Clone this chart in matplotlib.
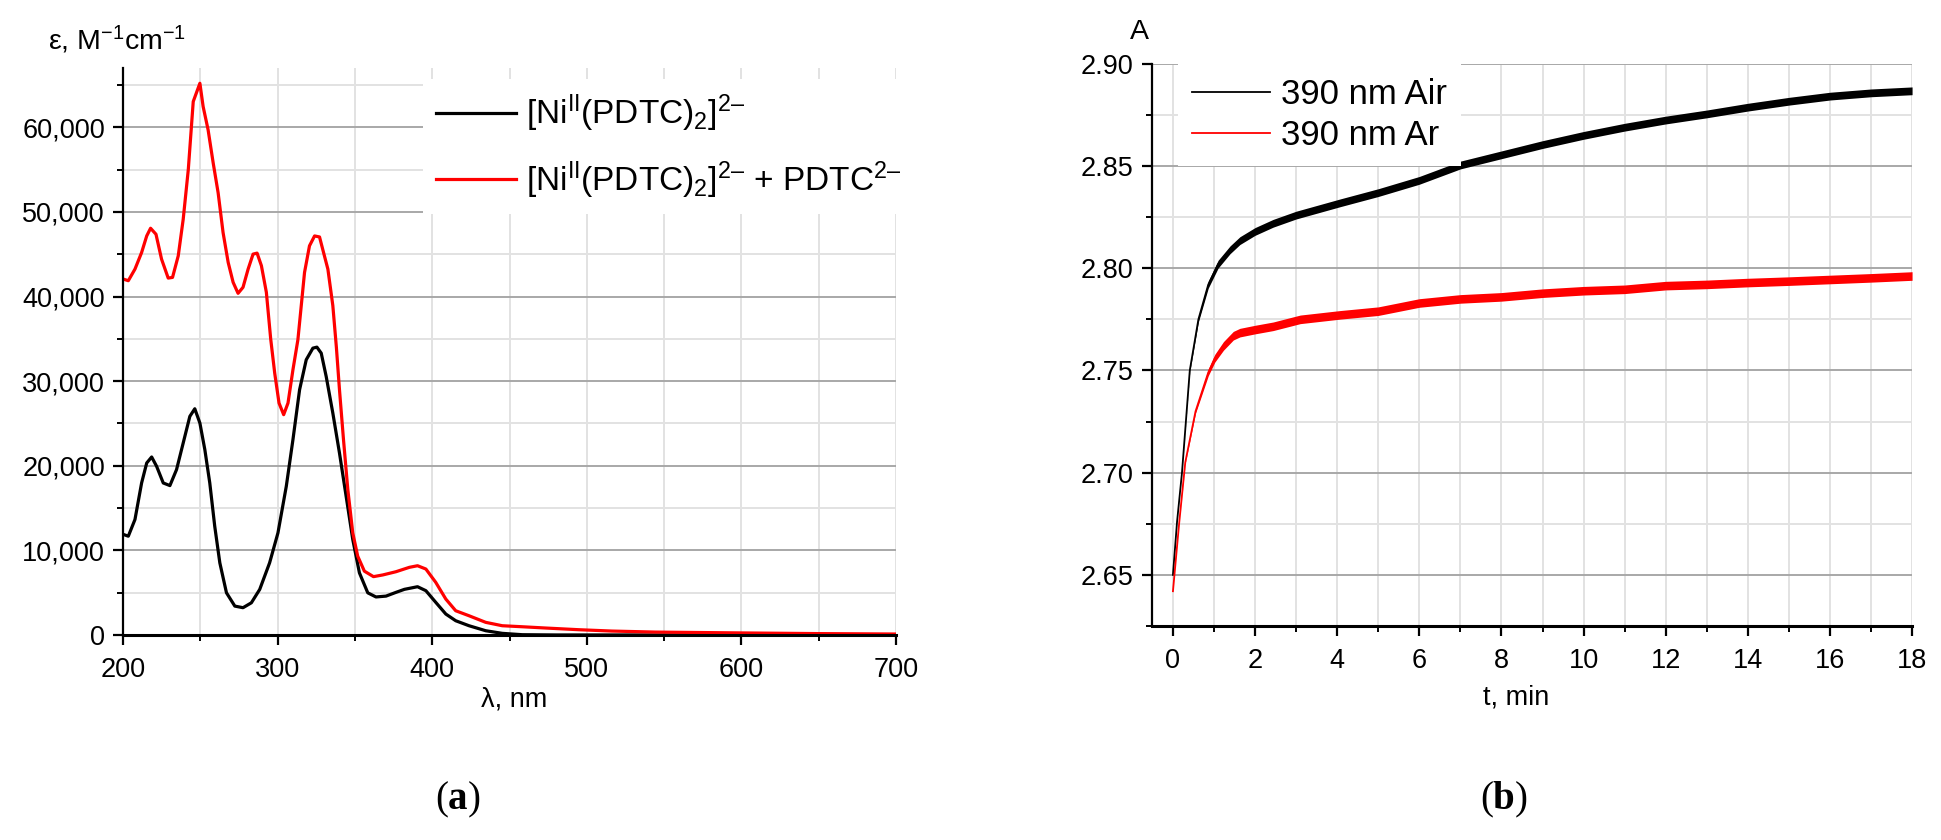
import numpy as np
import matplotlib
matplotlib.use("Agg")
import matplotlib.pyplot as plt
from matplotlib.ticker import MultipleLocator, FuncFormatter

plt.rcParams['font.family'] = ['Liberation Sans', 'DejaVu Sans']
plt.rcParams['mathtext.default'] = 'regular'
plt.rcParams['mathtext.fontset'] = 'custom'
plt.rcParams['mathtext.bf'] = 'Liberation Serif:bold'

# --- (a) UV-vis spectra ---
wl_ni = [200, 203.4, 207.7, 212.0, 215.3, 218.5, 221.7, 226.0, 230.3, 234.6, 238.9, 243.2, 246.4,
         249.7, 252.9, 256.1, 259.3, 262.6, 266.9, 272.3, 277.6, 283.0, 288.4, 294.8, 300.2, 305.6,
         309.9, 314.2, 318.5, 322.8, 325.4, 328.2, 331.4, 335.7, 340.0, 344.3, 348.6, 352.9, 358.3,
         363.6, 370.1, 376.5, 382, 390.5, 395.9, 402.3, 408.8, 415.2, 423.8, 434.6, 445.3, 458.2,
         480, 550, 620, 700]
eps_ni = [11900, 11680, 13650, 17970, 20330, 21040, 19940, 17970, 17660, 19550, 22690, 25840, 26740,
          25050, 21910, 17970, 12860, 8530, 4990, 3420, 3230, 3810, 5390, 8530, 12070, 17580,
          23090, 28990, 32530, 33900, 34020, 33310, 30560, 26230, 21510, 16400, 11290, 7350, 4990,
          4500, 4600, 5040, 5400, 5710, 5240, 3860, 2480, 1690, 1100, 510, 200, 40,
          10, 10, 5, 0]

wl_mix = [200, 203.4, 207.7, 212.0, 215.3, 217.8, 221.3, 224.9, 229.2, 232.0, 235.7, 238.9, 242.2,
          245.4, 249.7, 251.8, 255.0, 258.3, 261.5, 264.7, 268.0, 271.2, 274.4, 277.6, 280.9, 284.1,
          286.7, 289.5, 292.7, 295.5, 298.1, 300.9, 303.9, 306.7, 309.9, 313.1, 317.4, 320.6, 323.9,
          327.1, 329.7, 332.5, 335.7, 338.0, 340.0, 342.6, 345.4, 348.6, 351.8, 356.1, 362, 368,
          376.5, 385.2, 390.5, 395.9, 402.3, 408.8, 415.2, 423.8, 434.6, 445.3, 458.2, 473.3, 494.8,
          516.3, 544.3, 600, 650, 700]
eps_mix = [42070, 41870, 43240, 45200, 47160, 48070, 47360, 44420, 42180, 42260, 44810, 49120, 55000,
           63040, 65200, 62450, 59710, 55790, 52260, 47560, 44030, 41680, 40380, 41090, 43240, 45010,
           45130, 43640, 40500, 35000, 30950, 27410, 26040, 27410, 31350, 34890, 42850, 45990, 47160,
           47040, 45200, 43240, 38930, 34000, 28990, 23090, 17190, 12070, 9320, 7550, 6900, 7100,
           7480, 8000, 8190, 7800, 6220, 4250, 2870, 2280, 1500, 1100, 980, 830, 630,
           470, 350, 250, 170, 120]

legend_a = ['[Ni$^{II}$(PDTC)$_2$]$^{2–}$',
            '[Ni$^{II}$(PDTC)$_2$]$^{2–}$ + PDTC$^{2–}$']

# --- (b) kinetics at 390 nm ---
t_air = [0, 0.1, 0.22, 0.41, 0.62, 0.86, 1.1, 1.39, 1.63, 2.0, 2.44, 3.0, 4.07, 5.0, 6.0, 7, 8, 9,
         10, 11, 12, 13, 14, 15, 16, 17, 18]
a_air = [2.650, 2.676, 2.700, 2.750, 2.775, 2.792, 2.802, 2.809, 2.8135, 2.818, 2.822, 2.826, 2.832,
         2.837, 2.843, 2.8505, 2.8555, 2.8605, 2.865, 2.869, 2.8725, 2.8755, 2.8788, 2.8817, 2.8842,
         2.8858, 2.8868]
spread_air = [0, 0, 0, 0.0005, 0.0012, 0.0017, 0.0019, 0.0019, 0.0019, 0.0019, 0.0019, 0.0019, 0.0019,
              0.0019, 0.0019, 0.0019, 0.0019, 0.0019, 0.0019, 0.0019, 0.0019, 0.0019, 0.0019, 0.0019,
              0.0019, 0.0019, 0.0019]

t_ar = [0, 0.15, 0.3, 0.55, 0.86, 1.02, 1.23, 1.47, 1.63, 2.0, 2.44, 3.1, 4.07, 5.0, 6.0, 7, 8, 9,
        10, 11, 12, 13, 14, 15, 16, 17, 18]
a_ar = [2.642, 2.675, 2.705, 2.730, 2.749, 2.756, 2.762, 2.767, 2.7685, 2.770, 2.7716, 2.775, 2.7772,
        2.779, 2.783, 2.785, 2.786, 2.7878, 2.789, 2.7897, 2.7915, 2.7921, 2.793, 2.7937, 2.7945,
        2.7953, 2.7962]
spread_ar = [0, 0, 0.0003, 0.0009, 0.0016, 0.0019, 0.0021, 0.0021, 0.0021, 0.0021, 0.0021, 0.0021,
             0.0021, 0.0021, 0.0021, 0.0021, 0.0021, 0.0021, 0.0021, 0.0021, 0.0021, 0.0021, 0.0021,
             0.0021, 0.0021, 0.0021, 0.0021]

legend_b = ['390 nm Air', '390 nm Ar']

RED = '#ff0000'
MAJ_GRID = '#a8a8a8'
MIN_GRID = '#e2e2e2'


def style_axes(ax):
    for s in ['top', 'right']:
        ax.spines[s].set_visible(False)
    ax.spines['left'].set_linewidth(1.6)
    ax.spines['bottom'].set_linewidth(2.2)
    ax.tick_params(which='major', direction='out', length=7, width=1.6, labelsize=19.5, pad=6)
    ax.tick_params(which='minor', direction='out', length=4, width=1.4)
    ax.grid(True, which='major', axis='y', color=MAJ_GRID, linewidth=1.4)
    ax.grid(True, which='minor', axis='y', color=MIN_GRID, linewidth=1.4)
    ax.grid(True, which='both', axis='x', color=MIN_GRID, linewidth=1.4)
    ax.set_axisbelow(True)


fig = plt.figure(figsize=(19.41, 8.4), dpi=100)

# ---------- (a) ----------
ax1 = fig.add_axes([0.0634, 0.244, 0.3982, 0.675])
ax1.plot(wl_ni, eps_ni, color='black', linewidth=2.3, label=legend_a[0])
ax1.plot(wl_mix, eps_mix, color=RED, linewidth=2.3, label=legend_a[1])
ax1.set_xlim(200, 700)
ax1.set_ylim(0, 67000)
ax1.xaxis.set_major_locator(MultipleLocator(100))
ax1.xaxis.set_minor_locator(MultipleLocator(50))
ax1.yaxis.set_major_locator(MultipleLocator(10000))
ax1.yaxis.set_minor_locator(MultipleLocator(5000))
ax1.yaxis.set_major_formatter(FuncFormatter(lambda v, p: f'{int(v):,}'))
style_axes(ax1)
ax1.tick_params(axis='x', pad=9)
leg1 = ax1.legend(loc='upper left', bbox_to_anchor=(0.388, 0.98), fontsize=24, frameon=True,
                  framealpha=1, edgecolor='none', facecolor='white', fancybox=False,
                  handlelength=2.4, handletextpad=0.3, labelspacing=0.76, borderaxespad=0)
fig.text(48 / 1941, 1 - 40 / 840, 'ε, M$^{-1}$cm$^{-1}$', fontsize=20.5,
         ha='left', va='center')
fig.text(514 / 1941, 1 - 700 / 840, 'λ, nm', fontsize=19.5, ha='center', va='center')
fig.text(458 / 1941, 1 - 800 / 840, r'($\mathbf{a}$)', fontsize=28, family='Liberation Serif',
         ha='center', va='center')

# ---------- (b) ----------
ax2 = fig.add_axes([0.5933, 0.2548, 0.3918, 0.6692])
air_lo = np.array(a_air) - np.array(spread_air)
air_hi = np.array(a_air) + np.array(spread_air)
ar_lo = np.array(a_ar) - np.array(spread_ar)
ar_hi = np.array(a_ar) + np.array(spread_ar)
ax2.fill_between(t_air, air_lo, air_hi, color='black', linewidth=0)
ax2.fill_between(t_ar, ar_lo, ar_hi, color=RED, linewidth=0)
ax2.plot(t_air, a_air, color='black', linewidth=1.3, label=legend_b[0])
ax2.plot(t_ar, a_ar, color=RED, linewidth=1.3, label=legend_b[1])
ax2.set_xlim(-0.52, 18)
ax2.set_ylim(2.625, 2.90)
ax2.xaxis.set_major_locator(MultipleLocator(2))
ax2.xaxis.set_minor_locator(MultipleLocator(1))
ax2.yaxis.set_major_locator(MultipleLocator(0.05))
ax2.yaxis.set_minor_locator(MultipleLocator(0.025))
ax2.yaxis.set_major_formatter(FuncFormatter(lambda v, p: f'{v:.2f}'))
style_axes(ax2)
ax2.tick_params(axis='x', pad=9)
leg2 = ax2.legend(loc='upper left', bbox_to_anchor=(0.035, 1.0), fontsize=25, frameon=True,
                  framealpha=1, edgecolor='none', facecolor='white', fancybox=False,
                  handlelength=2.25, handletextpad=0.32, labelspacing=0.25, borderaxespad=0)
fig.text(1139 / 1941, 1 - 32 / 840, 'A', fontsize=20.5, ha='center', va='center')
fig.text(1516 / 1941, 1 - 697 / 840, 't, min', fontsize=19.5, ha='center', va='center')
fig.text(1504 / 1941, 1 - 800 / 840, r'($\mathbf{b}$)', fontsize=28, family='Liberation Serif',
         ha='center', va='center')

fig.savefig('out.png', dpi=100, facecolor='white')
